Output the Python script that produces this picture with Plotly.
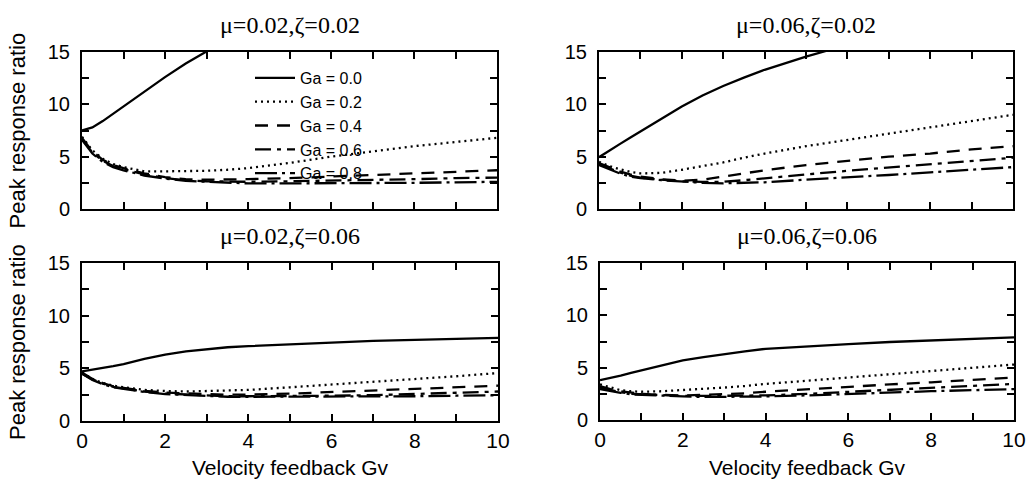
import plotly.graph_objects as go

# ---------------- data ----------------
gv = [0, 0.25, 0.5, 0.75, 1, 1.5, 2, 2.5, 3, 3.5, 4, 5, 6, 7, 8, 9, 10]
ga_labels = ["Ga = 0.0", "Ga = 0.2", "Ga = 0.4", "Ga = 0.6", "Ga = 0.8"]
panel_titles = ["μ=0.02,ζ=0.02", "μ=0.06,ζ=0.02", "μ=0.02,ζ=0.06", "μ=0.06,ζ=0.06"]

x_tick_vals = [0, 1, 2, 3, 4, 5, 6, 7, 8, 9, 10]
x_tick_text = ["0", "", "2", "", "4", "", "6", "", "8", "", "10"]
y_tick_vals = [0, 2.5, 5, 7.5, 10, 12.5, 15]
y_tick_text = ["0", "", "5", "", "10", "", "15"]

# panel 1: mu=0.02, zeta=0.02
p1_ga00 = [7.5, 7.8, 8.4, 9.1, 9.8, 11.2, 12.6, 13.9, 15.1, 16.2, None, None, None, None, None, None, None]
p1_ga02 = [6.9, 5.6, 4.8, 4.3, 4.0, 3.6, 3.6, 3.6, 3.65, 3.75, 3.9, 4.4, 5.0, 5.5, 6.0, 6.4, 6.8]
p1_ga04 = [6.8, 5.5, 4.7, 4.2, 3.9, 3.4, 3.05, 2.85, 2.8, 2.8, 2.85, 2.95, 3.1, 3.25, 3.4, 3.55, 3.7]
p1_ga06 = [6.7, 5.4, 4.6, 4.1, 3.8, 3.3, 2.95, 2.75, 2.65, 2.6, 2.6, 2.65, 2.7, 2.8, 2.85, 2.95, 3.0]
p1_ga08 = [6.6, 5.3, 4.5, 4.0, 3.7, 3.2, 2.9, 2.7, 2.6, 2.5, 2.45, 2.45, 2.45, 2.5, 2.5, 2.55, 2.6]

# panel 2: mu=0.06, zeta=0.02
p2_ga00 = [4.95, 5.6, 6.2, 6.8, 7.4, 8.65, 9.8, 10.85, 11.75, 12.55, 13.3, 14.55, 15.7, None, None, None, None]
p2_ga02 = [4.5, 4.1, 3.8, 3.55, 3.4, 3.45, 3.75, 4.1, 4.45, 4.9, 5.3, 6.0, 6.6, 7.2, 7.8, 8.4, 9.0]
p2_ga04 = [4.4, 4.0, 3.6, 3.3, 3.1, 2.85, 2.7, 2.8, 3.1, 3.4, 3.7, 4.2, 4.6, 5.0, 5.3, 5.7, 6.0]
p2_ga06 = [4.3, 3.9, 3.5, 3.2, 3.0, 2.8, 2.65, 2.6, 2.6, 2.75, 2.95, 3.3, 3.65, 3.95, 4.25, 4.55, 4.9]
p2_ga08 = [4.2, 3.8, 3.4, 3.1, 2.95, 2.75, 2.6, 2.5, 2.45, 2.5, 2.55, 2.8, 3.0, 3.25, 3.5, 3.75, 4.0]

# panel 3: mu=0.02, zeta=0.06
p3_ga00 = [4.7, 4.9, 5.05, 5.2, 5.4, 5.9, 6.3, 6.6, 6.8, 7.0, 7.1, 7.3, 7.45, 7.6, 7.7, 7.8, 7.9]
p3_ga02 = [4.6, 4.0, 3.6, 3.35, 3.2, 2.95, 2.85, 2.8, 2.85, 2.9, 2.95, 3.2, 3.45, 3.7, 3.95, 4.25, 4.55]
p3_ga04 = [4.6, 4.0, 3.6, 3.3, 3.15, 2.85, 2.7, 2.6, 2.55, 2.5, 2.5, 2.6, 2.75, 2.9, 3.05, 3.2, 3.35]
p3_ga06 = [4.5, 3.95, 3.55, 3.25, 3.1, 2.8, 2.6, 2.5, 2.4, 2.35, 2.35, 2.35, 2.4, 2.45, 2.55, 2.65, 2.8]
p3_ga08 = [4.5, 3.9, 3.5, 3.2, 3.05, 2.75, 2.55, 2.45, 2.35, 2.3, 2.3, 2.3, 2.3, 2.3, 2.35, 2.4, 2.45]

# panel 4: mu=0.06, zeta=0.06
p4_ga00 = [3.8, 4.0, 4.25, 4.5, 4.75, 5.25, 5.7, 6.0, 6.3, 6.55, 6.8, 7.05, 7.25, 7.45, 7.6, 7.75, 7.9]
p4_ga02 = [3.4, 3.1, 2.85, 2.75, 2.7, 2.75, 2.85, 2.95, 3.1, 3.25, 3.45, 3.75, 4.05, 4.35, 4.7, 5.0, 5.3]
p4_ga04 = [3.25, 2.95, 2.75, 2.6, 2.5, 2.4, 2.35, 2.4, 2.45, 2.55, 2.7, 2.95, 3.2, 3.4, 3.6, 3.8, 4.05]
p4_ga06 = [3.1, 2.85, 2.65, 2.5, 2.45, 2.35, 2.3, 2.3, 2.3, 2.3, 2.35, 2.5, 2.7, 2.85, 3.05, 3.25, 3.45]
p4_ga08 = [2.95, 2.75, 2.6, 2.45, 2.4, 2.3, 2.25, 2.2, 2.2, 2.2, 2.25, 2.35, 2.5, 2.6, 2.75, 2.85, 2.95]

panels = [
    [p1_ga00, p1_ga02, p1_ga04, p1_ga06, p1_ga08],
    [p2_ga00, p2_ga02, p2_ga04, p2_ga06, p2_ga08],
    [p3_ga00, p3_ga02, p3_ga04, p3_ga06, p3_ga08],
    [p4_ga00, p4_ga02, p4_ga04, p4_ga06, p4_ga08],
]

# ---------------- style ----------------
W, H = 1029, 485
dashes = ["solid", "2px,4px", "13px,9px", "16px,6px,4px,6px", "22px,5px,3px,5px"]
# panel boxes in pixels: (left, right, top, bottom)
boxes = [(82, 497, 52, 209), (599, 1013, 52, 209), (82, 498, 263, 421), (600, 1014, 263, 420)]
SANS = "Liberation Sans, Arial, sans-serif"
SERIF = "Liberation Serif, Times New Roman, serif"

fig = go.Figure()
layout = dict(
    template="none",
    width=W, height=H, margin=dict(l=0, r=0, t=0, b=0, pad=0, autoexpand=False),
    paper_bgcolor="white", plot_bgcolor="white",
    showlegend=True,
    legend=dict(x=250 / W, y=1 - 61 / H, xanchor="left", yanchor="top",
                bgcolor="rgba(0,0,0,0)", borderwidth=0,
                font=dict(family=SANS, size=16, color="black"),
                tracegroupgap=0, itemwidth=40),
)

for i, (series, box) in enumerate(zip(panels, boxes)):
    n = "" if i == 0 else str(i + 1)
    l, r, t, b = box
    for j, (vals, lab) in enumerate(zip(series, ga_labels)):
        fig.add_trace(go.Scatter(
            x=gv, y=vals, mode="lines", name=lab,
            line=dict(color="black", width=2.3, dash=dashes[j]),
            showlegend=(i == 0), xaxis="x" + n, yaxis="y" + n,
        ))
    bottom_row = i >= 2
    layout["xaxis" + n] = dict(
        domain=[l / W, r / W], anchor="y" + n, range=[0, 10], automargin=False,
        tickmode="array", tickvals=x_tick_vals,
        ticktext=x_tick_text if bottom_row else [""] * len(x_tick_vals),
        ticks="inside", ticklen=7, tickwidth=1.5, tickcolor="black",
        showline=True, linecolor="black", linewidth=2, mirror="ticks",
        showgrid=False, zeroline=False,
        tickfont=dict(family=SANS, size=21, color="black"),
    )
    layout["yaxis" + n] = dict(
        domain=[1 - b / H, 1 - t / H], anchor="x" + n, range=[0, 15], automargin=False,
        tickmode="array", tickvals=y_tick_vals, ticktext=y_tick_text,
        ticks="inside", ticklen=7, tickwidth=1.5, tickcolor="black",
        showline=True, linecolor="black", linewidth=2, mirror="ticks",
        showgrid=False, zeroline=False, ticklabelstandoff=6,
        tickfont=dict(family=SANS, size=20, color="black"),
    )

annotations = []
for i, box in enumerate(boxes):
    l, r, t, b = box
    annotations.append(dict(
        text=panel_titles[i], x=(l + r) / 2 / W, y=1 - (t - 27) / H,
        xref="paper", yref="paper", xanchor="center", yanchor="middle",
        showarrow=False, font=dict(family=SERIF, size=24, color="black"),
    ))
    if i >= 2:
        annotations.append(dict(
            text="Velocity feedback Gv", x=(l + r) / 2 / W, y=1 - 467 / H,
            xref="paper", yref="paper", xanchor="center", yanchor="middle",
            showarrow=False, font=dict(family=SANS, size=21, color="black"),
        ))
    if i in (0, 2):
        annotations.append(dict(
            text="Peak response ratio", x=17 / W, y=1 - (t + b) / 2 / H,
            xref="paper", yref="paper", xanchor="center", yanchor="middle",
            textangle=-90, showarrow=False,
            font=dict(family=SANS, size=22, color="black"),
        ))
layout["annotations"] = annotations

fig.update_layout(**layout)
fig.write_html(
    "out.html",
    config={"displayModeBar": False},
    post_script="document.body.style.margin='0px';document.body.style.overflow='hidden';",
)
